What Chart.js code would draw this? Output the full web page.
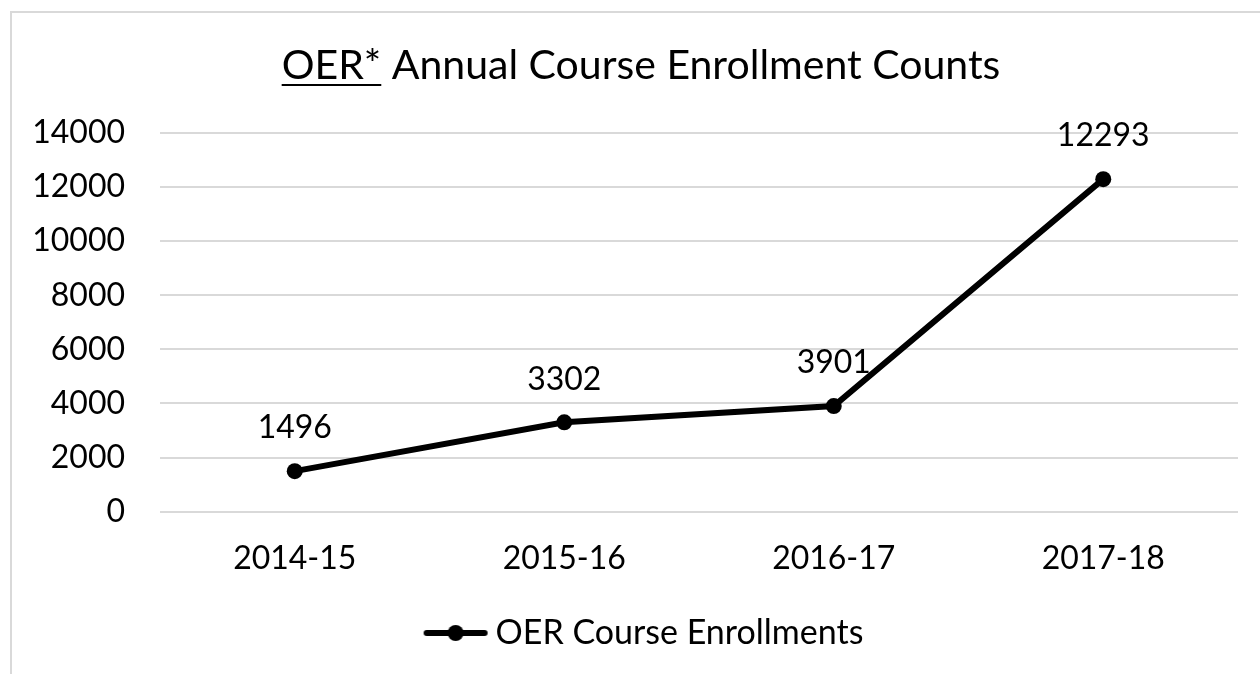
<!DOCTYPE html>
<html>
<head>
<meta charset="utf-8">
<script src="https://cdn.jsdelivr.net/npm/chart.js@4.4.1/dist/chart.umd.min.js"></script>
<style>
  html, body { margin: 0; padding: 0; background: #ffffff; }
  #wrap { width: 1260px; height: 674px; position: relative; }
</style>
</head>
<body>
<div id="wrap"><canvas id="c" width="1260" height="674"></canvas></div>
<script>
const categories = ["2014-15", "2015-16", "2016-17", "2017-18"];
const enrollments = [1496, 3302, 3901, 12293];
const seriesName = "OER Course Enrollments";
const titleUnderlined = "OER*";
const titleRest = " Annual Course Enrollment Counts";
const yTicks = [0, 2000, 4000, 6000, 8000, 10000, 12000, 14000];

const FONT = "Lato, 'Open Sans', sans-serif";
const TXT = "#000000";

// legend symbol: line with a dot (drawn in the right part of a wider transparent image)
const sym = document.createElement('canvas');
sym.width = 124; sym.height = 18;
(function(){
  const g = sym.getContext('2d');
  g.strokeStyle = '#000'; g.lineWidth = 6; g.lineCap = 'round';
  g.beginPath(); g.moveTo(62, 9); g.lineTo(120, 9); g.stroke();
  g.fillStyle = '#000'; g.beginPath(); g.arc(91, 9, 8, 0, Math.PI * 2); g.fill();
})();

const framePlugin = {
  id: 'frame',
  beforeDraw(chart) {
    const ctx = chart.ctx;
    ctx.save();
    ctx.fillStyle = '#ffffff';
    ctx.fillRect(0, 0, chart.width, chart.height);
    ctx.strokeStyle = '#d9d9d9';
    ctx.lineWidth = 2;
    ctx.beginPath();
    ctx.moveTo(11, chart.height + 2);
    ctx.lineTo(11, 12);
    ctx.lineTo(chart.width + 2, 12);
    ctx.stroke();
    ctx.restore();
  },
  afterDraw(chart) {
    const ctx = chart.ctx;
    ctx.save();
    ctx.font = "41px " + FONT;
    ctx.fillStyle = TXT;
    ctx.textBaseline = 'alphabetic';
    ctx.textAlign = 'left';
    const wU = ctx.measureText(titleUnderlined).width;
    const wAll = ctx.measureText(titleUnderlined + titleRest).width;
    const x0 = 641 - wAll / 2;
    const base = 79;
    ctx.fillText(titleUnderlined + titleRest, x0, base);
    ctx.fillRect(x0, base + 5, wU, 2);
    ctx.restore();
  }
};

const labelPlugin = {
  id: 'vlabels',
  afterDatasetsDraw(chart) {
    const ctx = chart.ctx;
    const meta = chart.getDatasetMeta(0);
    ctx.save();
    ctx.font = "32px " + FONT;
    ctx.fillStyle = TXT;
    ctx.textAlign = 'center';
    ctx.textBaseline = 'middle';
    meta.data.forEach((pt, i) => {
      ctx.fillText(String(chart.data.datasets[0].data[i]), pt.x, pt.y - 43);
    });
    ctx.restore();
  }
};

new Chart(document.getElementById('c'), {
  type: 'line',
  data: {
    labels: categories,
    datasets: [{
      label: seriesName,
      data: enrollments,
      borderColor: '#000000',
      backgroundColor: '#000000',
      borderWidth: 6,
      pointRadius: 8,
      pointHoverRadius: 8,
      pointBackgroundColor: '#000000',
      pointBorderWidth: 0,
      tension: 0
    }]
  },
  options: {
    responsive: false,
    animation: false,
    devicePixelRatio: 1,
    layout: { padding: { top: 133, right: 22, left: 0, bottom: 14 } },
    plugins: {
      title: { display: false },
      tooltip: { enabled: false },
      legend: {
        display: true,
        position: 'bottom',
        labels: {
          usePointStyle: true,
          pointStyleWidth: 104,
          color: TXT,
          font: { family: FONT, size: 34 },
          padding: 10,
          generateLabels(chart) {
            return [{
              text: seriesName,
              pointStyle: sym,
              fillStyle: '#000',
              strokeStyle: '#000',
              lineWidth: 0,
              hidden: false,
              datasetIndex: 0,
              fontColor: TXT
            }];
          }
        }
      }
    },
    scales: {
      x: {
        offset: true,
        grid: { display: false, drawTicks: false },
        border: { display: false },
        ticks: { color: TXT, font: { family: FONT, size: 32 }, padding: 28, maxRotation: 0 }
      },
      y: {
        min: 0,
        max: 14000,
        afterFit(scale) { scale.width = 160; },
        afterBuildTicks(scale) { scale.ticks = yTicks.map(v => ({ value: v })); },
        grid: { color: '#d9d9d9', lineWidth: 2, drawTicks: false },
        border: { display: false },
        ticks: {
          color: TXT,
          font: { family: FONT, size: 32 },
          padding: 35,
          callback: (v) => String(v)
        }
      }
    }
  },
  plugins: [framePlugin, labelPlugin]
});
</script>
</body>
</html>
